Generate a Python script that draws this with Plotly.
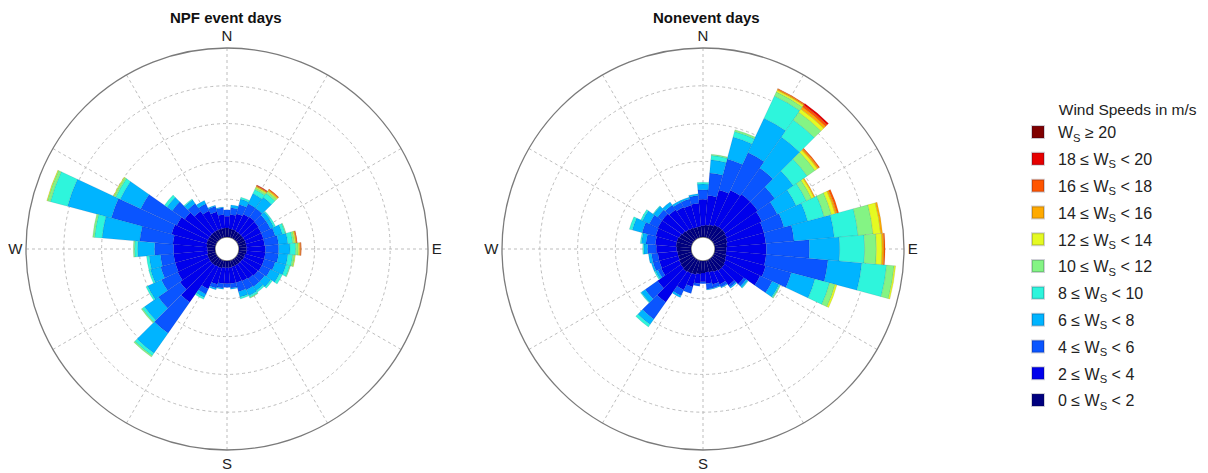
import plotly.graph_objects as go

# ---------------- data ----------------
directions = list(range(0, 360, 10))  # sector centres, degrees from N (clockwise)
spoke_angles = list(range(0, 360, 30))
spoke_labels = ["N", "", "", "E", "", "", "S", "", "", "W", "", ""]
ring_values = [1, 2, 3, 4, 5]

speed_labels = [
    "0 ≤ W<sub>S</sub> < 2", "2 ≤ W<sub>S</sub> < 4", "4 ≤ W<sub>S</sub> < 6",
    "6 ≤ W<sub>S</sub> < 8", "8 ≤ W<sub>S</sub> < 10", "10 ≤ W<sub>S</sub> < 12",
    "12 ≤ W<sub>S</sub> < 14", "14 ≤ W<sub>S</sub> < 16", "16 ≤ W<sub>S</sub> < 18",
    "18 ≤ W<sub>S</sub> < 20", "W<sub>S</sub> ≥ 20",
]
speed_colors = ["#00007F", "#0000EC", "#0A55FF", "#00B4FF", "#2EF5DC", "#84F484",
                "#E5FA22", "#FFAA00", "#FF5500", "#E60000", "#800000"]

# NPF event days: outer edge (cumulative frequency, ring units) of each speed band per direction (0 = band absent)
npf_e2 = [0.24, 0.22, 0.22, 0.20, 0.20, 0.20, 0.20, 0.20, 0.20, 0.20, 0.20, 0.18, 0.18, 0.17, 0.17, 0.17, 0.17, 0.18,
          0.18, 0.18, 0.20, 0.20, 0.22, 0.22, 0.22, 0.22, 0.20, 0.20, 0.22, 0.24, 0.24, 0.24, 0.24, 0.24, 0.24, 0.24]
npf_e4 = [0.55, 0.60, 0.65, 0.70, 0.72, 0.70, 0.68, 0.68, 0.68, 0.70, 0.70, 0.70, 0.70, 0.68, 0.65, 0.62, 0.60, 0.60,
          0.60, 0.60, 0.65, 0.85, 1.40, 1.20, 1.12, 1.10, 1.10, 1.10, 1.12, 1.20, 1.15, 1.05, 0.90, 0.80, 0.70, 0.60]
npf_e6 = [0.72, 0.78, 0.90, 1.00, 1.00, 0.95, 0.95, 1.00, 1.05, 1.05, 1.05, 1.00, 0.95, 0.90, 0.90, 0.88, 0.85, 0.72,
          0.70, 0.72, 0.76, 1.00, 2.40, 1.90, 1.60, 1.50, 1.45, 1.60, 2.00, 2.85, 2.20, 1.45, 1.15, 1.00, 0.85, 0.78]
npf_e8 = [0, 0.85, 1.05, 1.30, 1.35, 1.07, 1.05, 1.20, 1.30, 1.35, 1.30, 1.30, 1.22, 1.10, 1.03, 1.05, 1.00, 0.75,
          0, 0.75, 0.80, 1.10, 3.05, 2.35, 2.00, 1.78, 1.75, 2.05, 3.00, 4.05, 2.80, 1.62, 1.27, 1.10, 0.88, 0.80]
npf_e10 = [0, 0, 1.10, 1.42, 1.48, 1.10, 1.10, 1.28, 1.43, 1.50, 1.43, 1.40, 1.30, 1.15, 1.08, 1.10, 1.05, 0,
           0, 0, 0, 1.15, 3.13, 2.42, 2.05, 1.83, 1.82, 2.13, 3.20, 4.52, 2.93, 1.70, 1.30, 0, 0, 0]
npf_e12 = [0, 0, 0, 1.47, 1.54, 0, 0, 1.30, 1.48, 1.57, 1.48, 1.42, 0, 0, 0, 1.12, 0, 0,
           0, 0, 0, 0, 3.17, 2.45, 0, 0, 0, 2.16, 3.25, 4.60, 2.98, 0, 0, 0, 0, 0]
npf_e14 = [0, 0, 0, 1.50, 1.57, 0, 0, 0, 1.51, 1.60, 1.50, 0, 0, 0, 0, 0, 0, 0,
           0, 0, 0, 0, 0, 0, 0, 0, 0, 0, 0, 4.62, 3.00, 0, 0, 0, 0, 0]
npf_e16 = [0, 0, 0, 1.52, 1.60, 0, 0, 0, 1.53, 1.63, 0, 0, 0, 0, 0, 0, 0, 0,
           0, 0, 0, 0, 0, 0, 0, 0, 0, 0, 0, 0, 0, 0, 0, 0, 0, 0]
npf_e18 = [0, 0, 0, 1.54, 1.62, 0, 0, 0, 1.55, 1.65, 0, 0, 0, 0, 0, 0, 0, 0,
           0, 0, 0, 0, 0, 0, 0, 0, 0, 0, 0, 0, 0, 0, 0, 0, 0, 0]
npf_e20 = [0, 0, 0, 1.55, 0, 0, 0, 0, 0, 0, 0, 0, 0, 0, 0, 0, 0, 0,
           0, 0, 0, 0, 0, 0, 0, 0, 0, 0, 0, 0, 0, 0, 0, 0, 0, 0]
npf_e99 = [0] * 36

# Nonevent days
non_e2 = [0.30, 0.32, 0.35, 0.38, 0.40, 0.40, 0.38, 0.35, 0.32, 0.30, 0.30, 0.32, 0.35, 0.38, 0.38, 0.35, 0.32, 0.30,
          0.32, 0.35, 0.38, 0.40, 0.42, 0.40, 0.38, 0.36, 0.36, 0.38, 0.40, 0.40, 0.38, 0.35, 0.32, 0.30, 0.28, 0.28]
non_e4 = [1.00, 1.10, 1.30, 1.40, 1.45, 1.45, 1.40, 1.35, 1.35, 1.36, 1.36, 1.40, 1.35, 1.00, 0.85, 0.72, 0.65, 0.60,
          0.55, 0.60, 0.72, 0.88, 1.40, 1.15, 0.90, 0.88, 0.88, 0.92, 0.95, 0.98, 1.00, 1.00, 0.95, 0.90, 0.88, 0.90]
non_e6 = [1.25, 1.70, 2.15, 2.50, 2.30, 2.00, 1.85, 1.90, 2.10, 2.50, 3.00, 2.10, 1.70, 1.08, 0.92, 0.80, 0.75, 0.75,
          0.60, 0.67, 0.90, 1.05, 1.95, 1.55, 1.00, 1.05, 1.05, 1.15, 1.20, 1.35, 1.25, 1.15, 1.10, 1.05, 1.05, 1.10]
non_e8 = [1.40, 2.05, 2.75, 3.50, 3.30, 2.60, 2.40, 2.55, 3.17, 3.30, 3.90, 2.75, 1.90, 1.13, 0.95, 0.82, 0.77, 0.77,
          0, 0, 0, 1.10, 2.12, 1.68, 1.07, 1.10, 1.13, 1.25, 1.32, 1.62, 1.45, 1.28, 1.20, 1.10, 1.10, 1.15]
non_e10 = [1.45, 2.17, 2.90, 4.15, 3.85, 3.05, 2.70, 3.00, 3.80, 3.96, 4.56, 3.15, 1.93, 1.15, 0, 0, 0, 0,
           0, 0, 0, 0, 2.20, 1.70, 1.10, 0, 0, 1.28, 1.35, 1.70, 1.50, 1.30, 0, 0, 0, 0]
non_e12 = [0, 2.20, 2.95, 4.27, 4.10, 3.30, 2.85, 3.20, 4.20, 4.27, 4.76, 3.30, 1.95, 0, 0, 0, 0, 0,
           0, 0, 0, 0, 0, 0, 0, 0, 0, 0, 0, 0, 0, 0, 0, 0, 0, 0]
non_e14 = [0, 0, 0, 4.32, 4.20, 3.38, 2.92, 3.30, 4.40, 4.42, 4.80, 3.35, 0, 0, 0, 0, 0, 0,
           0, 0, 0, 0, 0, 0, 0, 0, 0, 0, 0, 0, 0, 0, 0, 0, 0, 0]
non_e16 = [0, 0, 0, 4.35, 4.27, 3.42, 2.95, 3.35, 4.45, 4.47, 0, 0, 0, 0, 0, 0, 0, 0,
           0, 0, 0, 0, 0, 0, 0, 0, 0, 0, 0, 0, 0, 0, 0, 0, 0, 0]
non_e18 = [0, 0, 0, 4.37, 4.33, 3.45, 0, 3.40, 0, 4.50, 0, 0, 0, 0, 0, 0, 0, 0,
           0, 0, 0, 0, 0, 0, 0, 0, 0, 0, 0, 0, 0, 0, 0, 0, 0, 0]
non_e20 = [0, 0, 0, 0, 4.38, 0, 0, 0, 0, 0, 0, 0, 0, 0, 0, 0, 0, 0,
           0, 0, 0, 0, 0, 0, 0, 0, 0, 0, 0, 0, 0, 0, 0, 0, 0, 0]
non_e99 = [0] * 36

npf_edges = [npf_e2, npf_e4, npf_e6, npf_e8, npf_e10, npf_e12, npf_e14, npf_e16, npf_e18, npf_e20, npf_e99]
non_edges = [non_e2, non_e4, non_e6, non_e8, non_e10, non_e12, non_e14, non_e16, non_e18, non_e20, non_e99]


def band_values(edges):
    prev = [0.0] * len(directions)
    out = []
    for e in edges:
        out.append([max(v - p, 0.0) for v, p in zip(e, prev)])
        prev = [max(v, p) for v, p in zip(e, prev)]
    return out


FONT = "Arial, Liberation Sans, Helvetica, sans-serif"
GRID = "#bdbdbd"
W, H = 1200, 465  # page body has an 8px margin inside the 1208x473 window

fig = go.Figure()

for subplot, edges, show in (("polar", npf_edges, True), ("polar2", non_edges, False)):
    for k, vals in enumerate(band_values(edges)):
        fig.add_trace(go.Barpolar(
            r=vals, theta=directions, width=[10] * len(directions),
            name=speed_labels[k], legendgroup=speed_labels[k], legendrank=100 - k,
            showlegend=show,
            marker=dict(color=speed_colors[k], line=dict(color="rgba(0,0,40,0.18)", width=0.5)),
            subplot=subplot, hoverinfo="skip",
        ))


def polar_layout(x0, x1):
    return dict(
        domain=dict(x=[x0 / W, x1 / W], y=[(H - 442) / H, (H - 40) / H]),
        hole=12 / 201,
        bgcolor="white",
        barmode="stack",
        bargap=0,
        radialaxis=dict(range=[0, 5], tickvals=ring_values, showticklabels=False, ticks="",
                        showline=False, gridcolor=GRID, griddash="dot", gridwidth=1,
                        layer="below traces"),
        angularaxis=dict(direction="clockwise", rotation=90, tickmode="array",
                         tickvals=spoke_angles, ticktext=spoke_labels, ticks="",
                         showgrid=True, gridcolor=GRID, griddash="dot", gridwidth=1,
                         showline=True, linecolor="#7a7a7a", linewidth=1.3,
                         tickfont=dict(family=FONT, size=15, color="#222222"),
                         layer="below traces"),
    )


fig.update_layout(
    width=W, height=H,
    margin=dict(l=0, r=0, t=0, b=0),
    paper_bgcolor="white",
    font=dict(family=FONT, color="#222222"),
    polar=polar_layout(18, 420),
    polar2=polar_layout(494, 896),
    legend=dict(
        x=1010 / W, y=1 - 87 / H, xanchor="left", yanchor="top",
        traceorder="grouped", tracegroupgap=3,
        title=dict(text="\u00a0" * 9 + "Wind Speeds in m/s", side="top",
                   font=dict(family=FONT, size=15.5, color="#222222")),
        font=dict(family=FONT, size=16, color="#222222"),
        bgcolor="rgba(255,255,255,0)", itemsizing="constant",
    ),
    annotations=[
        dict(text="<b>NPF event days</b>", x=218 / W, y=1 - 9 / H, xref="paper", yref="paper",
             xanchor="center", yanchor="middle", showarrow=False,
             font=dict(family=FONT, size=15, color="#111111")),
        dict(text="<b>Nonevent days</b>", x=698 / W, y=1 - 10 / H, xref="paper", yref="paper",
             xanchor="center", yanchor="middle", showarrow=False,
             font=dict(family=FONT, size=15, color="#111111")),
    ],
)

fig.write_html("out.html")
